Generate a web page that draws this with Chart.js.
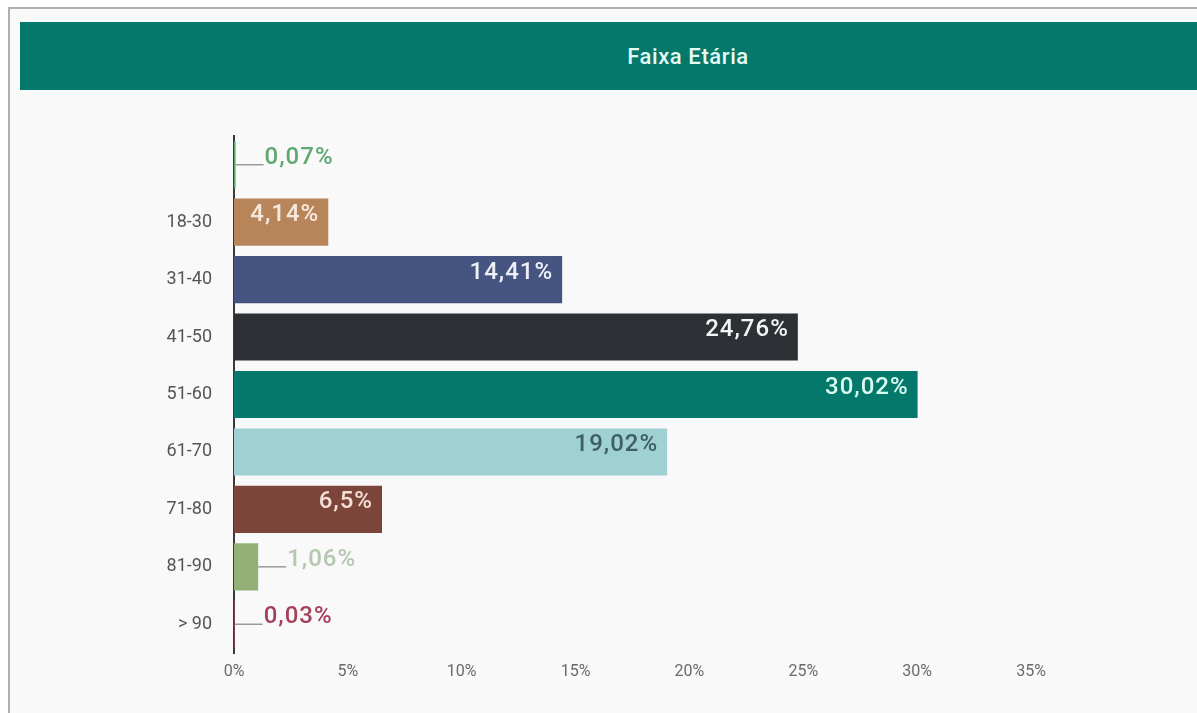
<!DOCTYPE html>
<html>
<head>
<meta charset="utf-8">
<script src="https://cdn.jsdelivr.net/npm/chart.js@4/dist/chart.umd.min.js"></script>
<style>
  html, body { margin: 0; padding: 0; background: #fff; overflow: hidden; }
  body { width: 1197px; height: 713px; position: relative; font-family: Roboto, sans-serif; }
  .card {
    position: absolute; left: 8px; top: 7px; width: 1300px; height: 800px;
    border: 2px solid #b3adad; background: #f9f9f9;
  }
  .header {
    position: absolute; left: 20px; top: 22px; width: 1336px; height: 68px;
    background: #04786a; color: #e4fbf4; font-size: 22px; font-weight: 500;
    letter-spacing: 0.6px;
    display: flex; align-items: center; justify-content: center;
  }
  #chartBox { position: absolute; left: 0; top: 0; width: 1197px; height: 713px; }
</style>
</head>
<body>
<div class="card"></div>
<div class="header">Faixa Etária</div>
<div id="chartBox"><canvas id="faixaChart"></canvas></div>
<script>
const ageGroups = ["", "18-30", "31-40", "41-50", "51-60", "61-70", "71-80", "81-90", "> 90"];
const shares = [0.07, 4.14, 14.41, 24.76, 30.02, 19.02, 6.5, 1.06, 0.03];
const xTicks = [0, 5, 10, 15, 20, 25, 30, 35];

const barColors = ["#5fa872", "#b8855b", "#465481", "#2d3034", "#04786a", "#9fd0d2", "#7b4539", "#93b077", "#a3405c"];
const labelColors = ["#5fa872", "#f6e9dc", "#eef0f8", "#f4f4f4", "#d9fbf0", "#3f5f68", "#f6ded6", "#b4c7b0", "#a3405c"];

Chart.defaults.font.family = "Roboto";

// percentage labels: inside the bar end, or on a short leader for tiny bars
const valueLabels = {
  id: "valueLabels",
  afterDatasetsDraw(chart) {
    const ctx = chart.ctx;
    const meta = chart.getDatasetMeta(0);
    ctx.save();
    ctx.font = "500 24px Roboto";
    ctx.letterSpacing = "1px";
    ctx.textBaseline = "middle";
    meta.data.forEach((bar, i) => {
      const v = shares[i];
      const text = String(v).replace(".", ",") + "%";
      if (v >= 2) {
        ctx.textAlign = "right";
        ctx.fillStyle = labelColors[i];
        ctx.fillText(text, bar.x - 9, bar.y - 7);
      } else {
        ctx.strokeStyle = "#9a9a9a";
        ctx.lineWidth = 1.5;
        ctx.beginPath();
        ctx.moveTo(bar.x, bar.y);
        ctx.lineTo(bar.x + 28, bar.y);
        ctx.stroke();
        ctx.textAlign = "left";
        ctx.fillStyle = labelColors[i];
        ctx.fillText(text, bar.x + 29, bar.y - 7);
      }
    });
    ctx.restore();
  }
};

new Chart(document.getElementById("faixaChart"), {
  type: "bar",
  data: {
    labels: ageGroups,
    datasets: [
      {
        data: shares,
        backgroundColor: barColors,
        borderWidth: 0,
        barPercentage: 0.82,
        categoryPercentage: 1,
      },
    ],
  },
  options: {
    indexAxis: "y",
    responsive: true,
    maintainAspectRatio: false,
    animation: false,
    layout: { padding: { top: 136, right: 166, bottom: 0, left: 0 } },
    plugins: {
      legend: { display: false },
      tooltip: { enabled: false },
    },
    scales: {
      x: {
        min: 0,
        max: 35,
        afterBuildTicks: (scale) => {
          scale.ticks = xTicks.map((v) => ({ value: v }));
        },
        afterFit: (scale) => {
          scale.height = 60;
        },
        grid: { display: false, drawTicks: false },
        border: { display: false },
        ticks: {
          padding: 9,
          color: "#6a6a6a",
          font: { size: 16 },
          callback: (v) => v + "%",
        },
      },
      y: {
        afterFit: (scale) => {
          scale.width = 234;
        },
        grid: { display: false, drawTicks: false },
        border: { display: true, color: "#3a3a3a", width: 2 },
        ticks: {
          padding: 22,
          color: "#555555",
          font: { size: 18 },
        },
      },
    },
  },
  plugins: [valueLabels],
});
</script>
</body>
</html>
